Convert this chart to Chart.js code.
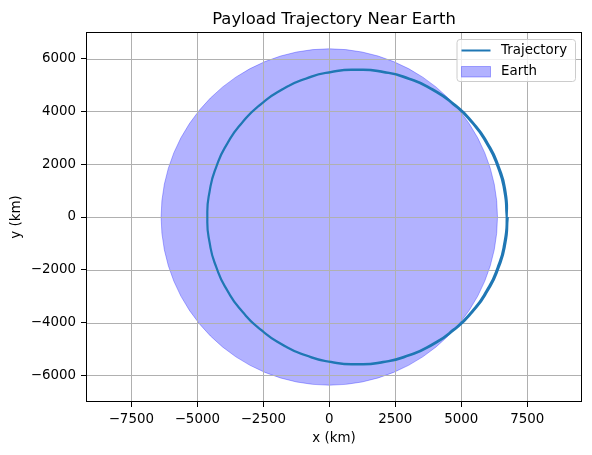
<!DOCTYPE html>
<html>
<head>
<meta charset="utf-8">
<script src="https://cdn.jsdelivr.net/npm/chart.js@4/dist/chart.umd.min.js"></script>
<style>
  html, body { margin: 0; padding: 0; background: #fff; }
  canvas { display: block; }
</style>
</head>
<body>
<canvas id="c" width="592" height="455"></canvas>
<script>
// trajectory: two laps, the second one drifts a little wider on the right
const trajX = [
  6720, 6634, 6378, 5960, 5393, 4695, 3885, 2989, 2034, 1050, 66, -889, -1785, -2595, -3293, -3860, -4278, -4534,
  -4620, -4534, -4278, -3860, -3293, -2595, -1785, -889, 66, 1050, 2034, 2989, 3885, 4695, 5393, 5960, 6378, 6634, 6720,
  6674, 6417, 5998, 5429, 4727, 3915, 3016, 2058, 1070, 82, -876, -1775, -2588, -3289, -3858, -4277, -4534,
  -4620, -4534, -4277, -3858, -3289, -2588, -1775, -876, 82, 1070, 2058, 3016, 3915, 4727, 5429, 5998, 6417, 6674, 6760,
];
const trajY = [
  0, 968, 1907, 2788, 3584, 4270, 4828, 5239, 5490, 5575, 5490, 5239, 4828, 4270, 3584, 2788, 1907, 968,
  0, -968, -1907, -2788, -3584, -4270, -4828, -5239, -5490, -5575, -5490, -5239, -4828, -4270, -3584, -2788, -1907, -968, 0,
  970, 1910, 2793, 3590, 4278, 4837, 5248, 5500, 5585, 5500, 5248, 4837, 4278, 3590, 2793, 1910, 970,
  0, -970, -1910, -2793, -3590, -4278, -4837, -5248, -5500, -5585, -5500, -5248, -4837, -4278, -3590, -2793, -1910, -970, 0,
];
// earth: centre and radius in km
const earthCenter = [0, 0];
const earthRadius = 6371;

const xTicks = [-7500, -5000, -2500, 0, 2500, 5000, 7500];
const yTicks = [-6000, -4000, -2000, 0, 2000, 4000, 6000];

const TITLE = "Payload Trajectory Near Earth";
const X_LABEL = "x (km)";
const Y_LABEL = "y (km)";
const FONT = "'DejaVu Sans', sans-serif";
const TRAJ_COLOR = "#1f77b4";
const EARTH_COLOR = "rgba(0,0,255,0.3)";

const pts = (xs, ys) => xs.map((x, i) => ({ x, y: ys[i] }));
const fmt = (v) => String(v).replace("-", "\u2212");
// earth radius in px, taken from the x scale
const earthPx = (c) => {
  const s = c.chart.scales.x;
  const r = s.getPixelForValue(earthRadius) - s.getPixelForValue(0);
  return isFinite(r) && r > 0 ? r : 1;
};

// grid goes over the earth patch but under the trajectory (matplotlib order)
const gridAfterEarth = {
  id: "gridAfterEarth",
  afterDatasetDraw(chart, args) {
    if (args.index !== 1) return;
    const { ctx, chartArea: a, scales } = chart;
    ctx.save();
    ctx.strokeStyle = "#b0b0b0";
    ctx.lineWidth = 1;
    ctx.beginPath();
    xTicks.forEach((v) => { const p = Math.round(scales.x.getPixelForValue(v)) + 0.5; ctx.moveTo(p, a.top); ctx.lineTo(p, a.bottom); });
    yTicks.forEach((v) => { const p = Math.round(scales.y.getPixelForValue(v)) + 0.5; ctx.moveTo(a.left, p); ctx.lineTo(a.right, p); });
    ctx.stroke();
    ctx.restore();
  },
};

const frameAndLegend = {
  id: "frameAndLegend",
  afterDatasetsDraw(chart) {
    const { ctx, chartArea: a } = chart;
    ctx.save();
    ctx.strokeStyle = "#000";
    ctx.lineWidth = 1;
    ctx.strokeRect(a.left + 0.5, a.top + 0.5, a.right - a.left - 1, a.bottom - a.top - 1);

    // legend box, upper right
    const bx = a.right - 125, by = a.top + 7.5, bw = 118.5, bh = 42;
    ctx.beginPath();
    ctx.roundRect(bx, by, bw, bh, 3);
    ctx.fillStyle = "rgba(255,255,255,0.8)";
    ctx.fill();
    ctx.strokeStyle = "#cccccc";
    ctx.stroke();

    const ds = chart.data.datasets;
    ctx.font = "13.4px " + FONT;
    ctx.fillStyle = "#000";
    ctx.textBaseline = "middle";
    ctx.textAlign = "left";
    // trajectory: line handle
    ctx.beginPath();
    ctx.moveTo(bx + 4.5, by + 11);
    ctx.lineTo(bx + 33.5, by + 11);
    ctx.strokeStyle = ds[0].borderColor;
    ctx.lineWidth = 2;
    ctx.stroke();
    ctx.fillText(ds[0].label, bx + 44, by + 11.5);
    // earth: patch handle
    ctx.fillStyle = ds[1].pointBackgroundColor;
    ctx.fillRect(bx + 4.5, by + 27, 29, 10.5);
    ctx.strokeStyle = ds[1].pointBorderColor;
    ctx.lineWidth = 1;
    ctx.strokeRect(bx + 4.5, by + 27, 29, 10.5);
    ctx.fillStyle = "#000";
    ctx.fillText(ds[1].label, bx + 44, by + 32.5);

    // title
    ctx.font = "16.4px " + FONT;
    ctx.textAlign = "center";
    ctx.textBaseline = "alphabetic";
    ctx.fillText(TITLE, (a.left + a.right) / 2, 24);
    ctx.restore();
  },
};

const tickFont = { family: FONT, size: 13.4 };

new Chart(document.getElementById("c"), {
  type: "scatter",
  data: {
    datasets: [
      { label: "Trajectory", data: pts(trajX, trajY), showLine: true, tension: 0.6, borderColor: TRAJ_COLOR, borderWidth: 2.2, pointRadius: 0, fill: false, order: 0 },
      {
        label: "Earth",
        data: [{ x: earthCenter[0], y: earthCenter[1] }],
        showLine: false,
        pointRadius: earthPx, pointHoverRadius: earthPx,
        pointBackgroundColor: EARTH_COLOR, pointBorderColor: EARTH_COLOR, pointBorderWidth: 1,
        order: 1,
      },
    ],
  },
  options: {
    responsive: false,
    devicePixelRatio: 1,
    animation: false,
    events: [],
    layout: { padding: { top: 32, right: 10, left: 0, bottom: 0 } },
    plugins: { legend: { display: false }, tooltip: { enabled: false }, title: { display: false } },
    scales: {
      x: {
        type: "linear", min: -9216, max: 9572,
        afterBuildTicks: (s) => { s.ticks = xTicks.map((v) => ({ value: v })); },
        afterFit: (s) => { s.height = 53; },
        grid: { drawOnChartArea: false, drawTicks: true, tickLength: 5, tickColor: "#000", tickWidth: 1 },
        border: { display: false },
        ticks: { color: "#000", font: tickFont, padding: 4, maxRotation: 0, autoSkip: false, callback: (v) => fmt(v) },
        title: { display: true, text: X_LABEL, color: "#000", font: tickFont, padding: { top: 0, bottom: 8 } },
      },
      y: {
        type: "linear", min: -7008, max: 7008,
        afterBuildTicks: (s) => { s.ticks = yTicks.map((v) => ({ value: v })); },
        afterFit: (s) => { s.width = 86; },
        grid: { drawOnChartArea: false, drawTicks: true, tickLength: 5, tickColor: "#000", tickWidth: 1 },
        border: { display: false },
        ticks: { color: "#000", font: tickFont, padding: 5, autoSkip: false, callback: (v) => fmt(v) },
        title: { display: true, text: Y_LABEL, color: "#000", font: tickFont, padding: { top: 8, bottom: 0 } },
      },
    },
  },
  plugins: [gridAfterEarth, frameAndLegend],
});
</script>
</body>
</html>
